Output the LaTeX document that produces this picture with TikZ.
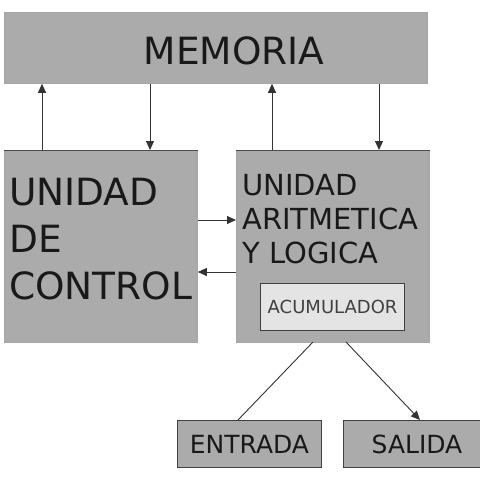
\documentclass[tikz,border=0pt]{standalone}
\usepackage{fontspec}
\setmainfont{DejaVu Sans}
\usetikzlibrary{arrows.meta}
\definecolor{boxgray}{HTML}{ABABAB}
\definecolor{accfill}{HTML}{E4E4E4}
\tikzset{
  box/.style={draw=black!35, line width=0.8pt, fill=boxgray, inner sep=0pt, anchor=north west},
  acc/.style={draw=black!75, line width=1.2pt, fill=accfill, inner sep=0pt, anchor=north west},
  iobox/.style={draw=black!75, line width=1pt, fill=boxgray, inner sep=0pt, anchor=north west},
  conn/.style={line width=0.9pt, draw=black!80},
  arr/.style={conn, -{Triangle[length=9pt,width=8pt]}},
  txt/.style={inner sep=0pt, text=black!90},
}
\begin{document}
\begin{tikzpicture}[x=1pt,y=-1pt]
\useasboundingbox (0,0) rectangle (480,480);
% boxes
\node[box, minimum width=423pt, minimum height=71pt] (mem) at (4,12) {};
\node[box, minimum width=193pt, minimum height=192pt] (uc) at (4,150) {};
\node[box, minimum width=193pt, minimum height=192pt] (alu) at (236,150) {};
\node[acc, minimum width=144pt, minimum height=47pt] (accb) at (260,283) {};
\node[iobox, minimum width=144pt, minimum height=47pt] (ent) at (177,420) {};
\node[iobox, minimum width=140pt, minimum height=47pt] (sal) at (343,420) {};
% darker top edges
\draw[line width=1pt, black!70] (uc.north west) -- (uc.north east);
\draw[line width=1pt, black!70] (alu.north west) -- (alu.north east);
% texts
\node[txt, font=\fontsize{37.5}{46}\selectfont, anchor=base] (memt) at (234,64) {MEMORIA};
\node[txt, font=\fontsize{37.5}{47}\selectfont, anchor=north west, align=left] (uct) at (9,178) {UNIDAD\\DE\\CONTROL};
\node[txt, font=\fontsize{29}{34}\selectfont, anchor=north west, align=left] (alut) at (242,174) {UNIDAD\\ARITMETICA\\Y LOGICA};
\node[txt, font=\fontsize{18}{20}\selectfont, text=black!75] (acct) at (accb.center) {ACUMULADOR};
\node[txt, font=\fontsize{25}{30}\selectfont] (entt) at (ent.center) {ENTRADA};
\node[txt, font=\fontsize{25}{30}\selectfont, anchor=base] (salt) at (417,453) {SALIDA};
% connectors memory
\draw[arr] (uc.north west -| 42,0) -- (mem.south west -| 42,0);
\draw[arr] (mem.south west -| 150,0) -- (uc.north west -| 150,0);
\draw[arr] (alu.north west -| 272,0) -- (mem.south west -| 272,0);
\draw[arr] (mem.south west -| 379,0) -- (alu.north west -| 379,0);
% UC <-> ALU
\draw[arr] (uc.north east |- 0,220) -- (alu.north west |- 0,220);
\draw[arr] (alu.north west |- 0,272) -- (uc.north east |- 0,272);
% ALU to IO
\coordinate (a1) at (313,342);
\coordinate (a2) at (346,342);
\draw[conn] (ent.north west -| 238,0) -- (a1);
\draw[arr] (a2) -- (sal.north west -| 420,0);
\end{tikzpicture}
\end{document}
